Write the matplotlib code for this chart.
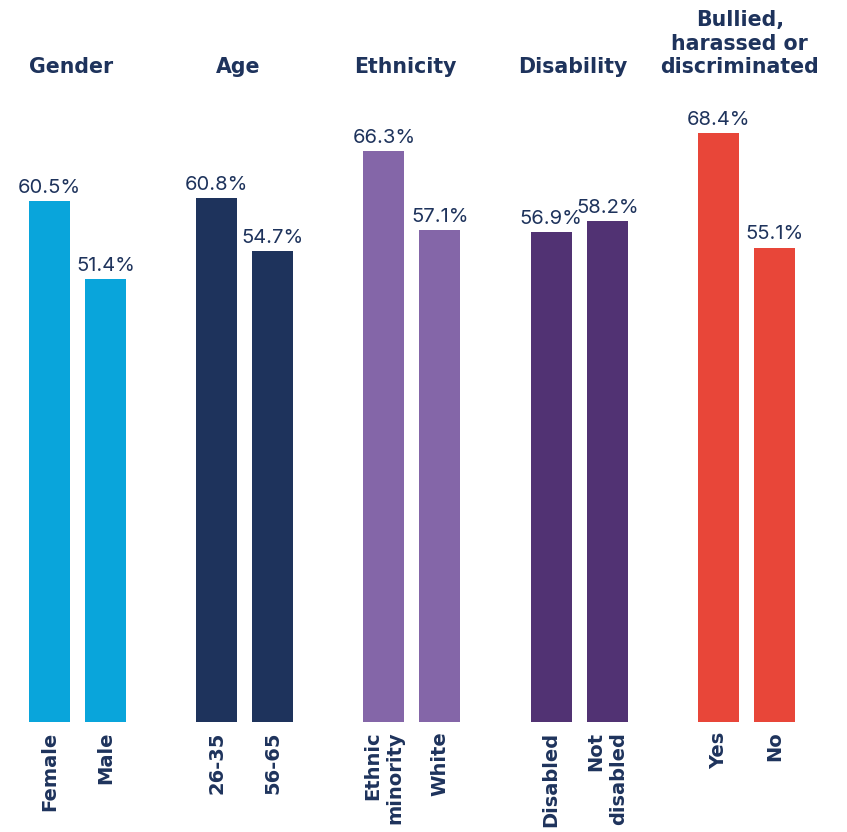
import matplotlib.pyplot as plt
from matplotlib.transforms import blended_transform_factory

# Share of respondents, by characteristic
groups = ["Gender", "Age", "Ethnicity", "Disability", "Bullied,\nharassed or\ndiscriminated"]
categories = [
    ["Female", "Male"],
    ["26-35", "56-65"],
    ["Ethnic\nminority", "White"],
    ["Disabled", "Not\ndisabled"],
    ["Yes", "No"],
]
values = [
    [60.5, 51.4],
    [60.8, 54.7],
    [66.3, 57.1],
    [56.9, 58.2],
    [68.4, 55.1],
]
colors = ["#09A5DB", "#1E335C", "#8466A8", "#513273", "#E84639"]

navy = "#1E335C"
plt.rcParams["font.family"] = ["Inter", "DejaVu Sans"]
bold_font = ["DejaVu Sans"]

fig = plt.figure(figsize=(8.47, 8.32), dpi=100)
ax = fig.add_axes([0, 0.1322, 1, 0.8678])

offset = 0.335
width = 0.245
xs, labels = [], []
for i, (cats, vals, col) in enumerate(zip(categories, values, colors)):
    pos = [i - offset / 2, i + offset / 2]
    bars = ax.bar(pos, vals, width=width, color=col)
    for b, v in zip(bars, vals):
        ax.annotate(f"{v}%", (b.get_x() + b.get_width() / 2, v),
                    xytext=(0, 3), textcoords="offset points",
                    ha="center", va="bottom", fontsize=14.5, color=navy)
    xs += pos
    labels += cats

# group headings above each pair of bars
trans = blended_transform_factory(ax.transData, ax.transAxes)
for i, g in enumerate(groups):
    ax.text(i - 0.04, 0.893, g, transform=trans, ha="center", va="bottom",
            fontsize=14.8, fontweight="bold", color=navy, linespacing=1.22,
            family=bold_font)

ax.set_xticks(xs)
ax.set_xticklabels(labels, rotation=90, va="top", ha="center",
                   multialignment="right", fontsize=14,
                   fontweight="bold", color=navy, family=bold_font)
ax.tick_params(axis="x", length=0, pad=7)
ax.set_yticks([])
ax.set_xlim(-0.463, 4.601)
ax.set_ylim(0, 83.85)
for s in ax.spines.values():
    s.set_visible(False)

plt.savefig("out.png", dpi=100)
